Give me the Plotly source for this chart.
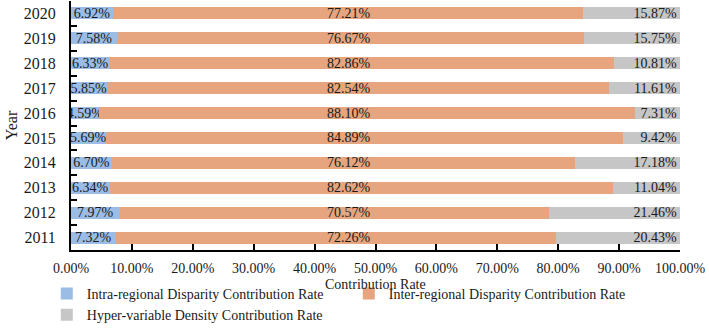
import plotly.graph_objects as go

years = ["2011", "2012", "2013", "2014", "2015", "2016", "2017", "2018", "2019", "2020"]
intra = [7.32, 7.97, 6.34, 6.70, 5.69, 4.59, 5.85, 6.33, 7.58, 6.92]
inter = [72.26, 70.57, 82.62, 76.12, 84.89, 88.10, 82.54, 82.86, 76.67, 77.21]
hyper = [20.43, 21.46, 11.04, 17.18, 9.42, 7.31, 11.61, 10.81, 15.75, 15.87]
x_ticks = [0, 10, 20, 30, 40, 50, 60, 70, 80, 90, 100]
x_tick_labels = ["%.2f%%" % v for v in x_ticks]

FONT = "Liberation Serif"
C_INTRA = "#9BBCE5"
C_INTER = "#E6A57E"
C_HYPER = "#C6C6C6"
TXT = "#1a1a1a"

fig = go.Figure()
fig.add_trace(go.Bar(
    y=years, x=intra, orientation="h", name="Intra-regional Disparity Contribution Rate",
    marker=dict(color=C_INTRA, line=dict(width=0)),
    text=["%.2f%%" % v for v in intra], textposition="inside", insidetextanchor="middle",
    textangle=0, constraintext="none", textfont=dict(family=FONT, size=14, color=TXT),
))
fig.add_trace(go.Bar(
    y=years, x=inter, orientation="h", name="Inter-regional Disparity Contribution Rate",
    marker=dict(color=C_INTER, line=dict(width=0)), textposition="none",
))
fig.add_trace(go.Bar(
    y=years, x=hyper, orientation="h", name="Hyper-variable Density Contribution Rate",
    marker=dict(color=C_HYPER, line=dict(width=0)),
    text=["%.2f%%" % v for v in hyper], textposition="inside", insidetextanchor="end",
    textangle=0, constraintext="none", textfont=dict(family=FONT, size=14, color=TXT),
))

# inter-regional labels sit at a common position, as in the original
# (category axis: annotation y given as category index)
for i, v in enumerate(inter):
    fig.add_annotation(x=45.6, y=i, xref="x", yref="y", text="%.2f%%" % v, showarrow=False,
                       font=dict(family=FONT, size=14, color=TXT), xanchor="center", yanchor="middle")

# x-axis title
fig.add_annotation(x=0.5, y=-0.14, xref="paper", yref="paper", text="Contribution Rate",
                   showarrow=False, font=dict(family=FONT, size=14, color=TXT),
                   xanchor="center", yanchor="middle")

fig.update_layout(
    barmode="stack", bargap=0.52,
    width=709, height=331,
    margin=dict(l=71, r=29, t=1, b=81, autoexpand=False),
    plot_bgcolor="white", paper_bgcolor="white",
    font=dict(family=FONT, size=14, color=TXT),
    showlegend=True,
    legend=dict(orientation="h", xref="container", x=0.066, xanchor="left",
                yref="container", y=-0.045, yanchor="bottom",
                entrywidth=257, entrywidthmode="pixels", traceorder="normal",
                font=dict(family=FONT, size=14, color=TXT)),
    yaxis=dict(type="category", categoryorder="array", categoryarray=years,
               range=[-0.5, len(years) - 0.5], tickson="boundaries"),
)
fig.update_xaxes(range=[0, 100], tickvals=x_ticks, ticktext=x_tick_labels,
                 showgrid=False, zeroline=False, showline=True, linecolor="black", linewidth=2,
                 ticks="inside", ticklen=6, tickwidth=2, tickcolor="black",
                 tickfont=dict(family=FONT, size=14), ticklabelstandoff=4)
fig.update_yaxes(showgrid=False, showline=True, linecolor="black", linewidth=2,
                 ticks="inside", ticklen=6, tickwidth=2, tickcolor="black",
                 tickfont=dict(family=FONT, size=16), ticklabelstandoff=10,
                 title=dict(text="Year", font=dict(family=FONT, size=16), standoff=2))

fig.write_html("out.html", config={"displayModeBar": False},
               post_script="document.body.style.margin='0';document.body.style.padding='0';")
